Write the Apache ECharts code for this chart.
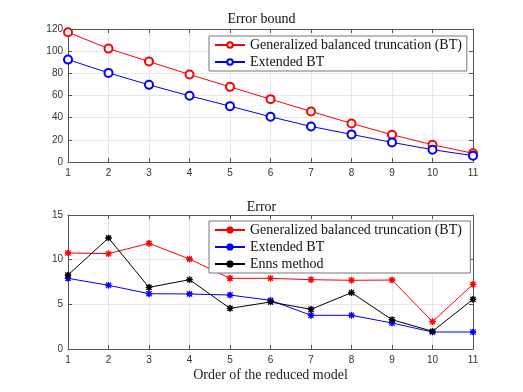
<!DOCTYPE html>
<html><head><meta charset="utf-8">
<script src="https://cdn.jsdelivr.net/npm/echarts@6/dist/echarts.min.js"></script>
<style>html,body{margin:0;padding:0;background:#fff}#c{width:523px;height:392px}</style>
</head><body><div id="c"></div>
<script>
var orders = [1,2,3,4,5,6,7,8,9,10,11];
var boundGBT = [117, 102.3, 90.6, 79.0, 67.8, 56.7, 45.6, 34.8, 24.6, 15.6, 7.8];
var boundEBT = [92.4, 80.4, 69.6, 59.7, 50.4, 40.8, 32.1, 24.9, 17.7, 11.1, 5.7];
var errGBT = [10.75, 10.67, 11.83, 10.07, 7.91, 7.91, 7.76, 7.69, 7.72, 3.06, 7.24];
var errEBT = [7.91, 7.13, 6.19, 6.16, 6.04, 5.45, 3.77, 3.77, 2.91, 1.9, 1.9];
var errEnns = [8.28, 12.43, 6.9, 7.76, 4.55, 5.26, 4.44, 6.31, 3.28, 1.98, 5.56];
var names = ['Generalized balanced truncation (BT)', 'Extended BT', 'Enns method'];
var titles = ['Error bound', 'Error'];
var xLabel = 'Order of the reduced model';

function pairs(v){ return orders.map(function(x,i){ return [x, v[i]]; }); }
var serif = 'Liberation Serif';
var sans = 'Liberation Sans';
var axisCol = '#555';
var star = 'path://M9 0H11V20H9Z M0 9H20V11H0Z M1.5 2.9L2.9 1.5L18.5 17.1L17.1 18.5Z M17.1 1.5L18.5 2.9L2.9 18.5L1.5 17.1Z';

function xAx(gi, pos, show){
  return {type:'value', gridIndex:gi, position:pos, min:1, max:11, interval:1,
    axisLine:{show:true, onZero:false, lineStyle:{color:axisCol, width:1}},
    axisTick:{show:true, inside:true, length:4, lineStyle:{color:axisCol}},
    axisLabel:{show:show, color:'#333', fontFamily:sans, fontSize:10, margin:6},
    splitLine:{show:pos==='bottom', lineStyle:{color:'#e8e8e8'}}};
}
function yAx(gi, pos, max, iv, show){
  return {type:'value', gridIndex:gi, position:pos, min:0, max:max, interval:iv,
    axisLine:{show:true, onZero:false, lineStyle:{color:axisCol, width:1}},
    axisTick:{show:true, inside:true, length:4, lineStyle:{color:axisCol}},
    axisLabel:{show:show, color:'#333', fontFamily:sans, fontSize:10, margin:5},
    splitLine:{show:pos==='left', lineStyle:{color:'#e8e8e8'}}};
}
var xa = [xAx(0,'bottom',true), xAx(0,'top',false), xAx(1,'bottom',true), xAx(1,'top',false)];
xa[2].name = xLabel; xa[2].nameLocation='middle'; xa[2].nameGap=19;
xa[2].nameTextStyle = {fontFamily:serif, fontSize:14, color:'#222'};
var ya = [yAx(0,'left',120,20,true), yAx(0,'right',120,20,false), yAx(1,'left',15,5,true), yAx(1,'right',15,5,false)];

function ser(name, data, color, xi, yi, sym, size){
  return {name:name, type:'line', xAxisIndex:xi, yAxisIndex:yi, data:pairs(data),
    symbol:sym, symbolSize:size, showSymbol:true,
    lineStyle:{color:color, width:1}, itemStyle:{color:color, borderColor:color, borderWidth:1},
    animation:false};
}
var legendText = {fontFamily:serif, fontSize:14, color:'#111'};
var option = {
  backgroundColor:'#fff',
  animation:false,
  title:[
    {text:titles[0], left:'center', top:12, textStyle:{fontFamily:serif, fontSize:14, fontWeight:'normal', color:'#111'}, padding:0},
    {text:titles[1], left:'center', top:200, textStyle:{fontFamily:serif, fontSize:14, fontWeight:'normal', color:'#111'}, padding:0}
  ],
  grid:[
    {left:68, right:50, top:29, height:133, show:false},
    {left:68, right:50, top:215, height:134, show:false}
  ],
  xAxis: xa, yAxis: ya,
  legend:[
    {data:[names[0],names[1]], orient:'vertical', left:209, top:36, itemWidth:30, itemHeight:7, itemGap:3,
     padding:[2,5,2,5], backgroundColor:'#fff', borderColor:'#777', borderWidth:1, textStyle:legendText},
    {data:[{name:names[0]+' '},{name:'Extended BT '},{name:names[2]}], orient:'vertical', left:209, top:221, itemWidth:30, itemHeight:6, itemGap:3,
     padding:[2,5,2,5], backgroundColor:'#fff', borderColor:'#777', borderWidth:1, textStyle:legendText}
  ],
  series:[
    ser(names[0], boundGBT, '#ff0000', 0, 0, 'emptyCircle', 8),
    ser(names[1], boundEBT, '#0000ff', 0, 0, 'emptyCircle', 8),
    ser(names[0]+' ', errGBT, '#ff0000', 2, 2, star, 6),
    ser('Extended BT ', errEBT, '#0000ff', 2, 2, star, 6),
    ser(names[2], errEnns, '#000000', 2, 2, star, 6)
  ]
};
var chart = echarts.init(document.getElementById('c'), null, {renderer:'canvas'});
chart.setOption(option);
</script></body></html>
